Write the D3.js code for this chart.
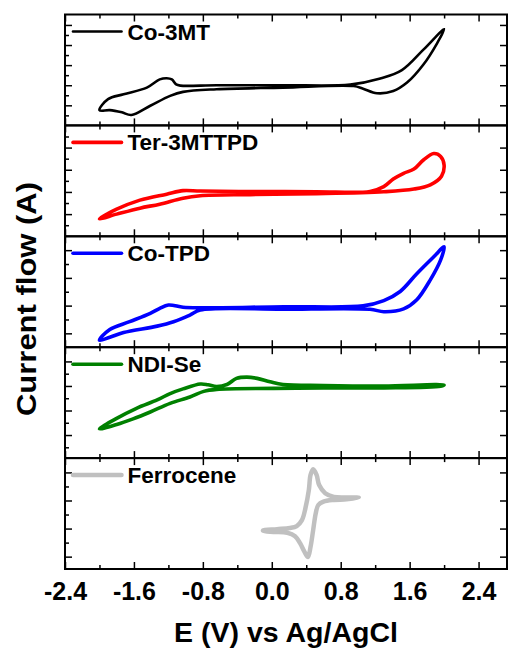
<!DOCTYPE html>
<html>
<head>
<meta charset="utf-8">
<script src="https://cdn.jsdelivr.net/npm/d3@7"></script>
<style>
  body { margin: 0; background: #fff; }
  text { font-family: "Liberation Sans", Arial, sans-serif; font-weight: bold; }
</style>
</head>
<body>
<svg id="chart"></svg>
<script>
// sample names, top to bottom
const names = ["Co-3MT", "Ter-3MTTPD", "Co-TPD", "NDI-Se", "Ferrocene"]

// CV loops: [E (V), current (arb. units)]
const co3mt = [[-2.00,0.76],[-1.90,1.31],[-1.72,1.55],[-1.45,1.88],[-1.30,2.29],[-1.22,2.35],[-1.16,2.29],[-1.11,2.04],[-1.06,1.98],[-0.64,2.00],[0.13,2.00],[0.91,2.03],[1.26,2.33],[1.51,2.75],[1.76,3.77],[2.00,4.79],[1.92,4.10],[1.76,3.03],[1.57,2.13],[1.41,1.71],[1.22,1.60],[1.06,1.83],[0.95,1.96],[0.13,1.88],[-0.64,1.80],[-1.03,1.67],[-1.18,1.47],[-1.41,0.98],[-1.63,0.52],[-1.74,0.65],[-1.88,0.76]]
const ter3mttpd = [[-2.00,0.79],[-1.80,1.22],[-1.53,1.63],[-1.22,1.90],[-1.03,2.06],[-0.83,2.04],[-0.25,2.02],[0.52,2.01],[1.14,2.02],[1.30,2.24],[1.41,2.58],[1.53,2.84],[1.65,3.03],[1.76,3.44],[1.88,3.73],[1.96,3.60],[2.00,3.21],[1.97,2.71],[1.84,2.32],[1.65,2.13],[1.30,2.01],[0.52,1.92],[-0.25,1.88],[-0.83,1.83],[-1.03,1.72],[-1.30,1.45],[-1.53,1.27],[-1.80,1.00]]
const cotpd = [[-2.00,-0.25],[-1.88,0.14],[-1.65,0.42],[-1.41,0.72],[-1.30,0.90],[-1.20,1.02],[-1.03,0.94],[-0.83,0.92],[0.14,0.96],[1.06,0.99],[1.30,1.18],[1.49,1.51],[1.68,2.14],[1.88,2.76],[2.00,3.12],[1.96,2.65],[1.84,1.93],[1.68,1.20],[1.53,0.88],[1.30,0.78],[1.14,0.87],[0.14,0.87],[-0.83,0.84],[-0.95,0.66],[-1.14,0.42],[-1.33,0.26],[-1.72,0.03],[-1.88,-0.14]]
const ndise = [[-2.00,0.25],[-1.80,0.68],[-1.57,1.09],[-1.33,1.43],[-1.18,1.69],[-1.03,1.88],[-0.83,2.08],[-0.74,2.05],[-0.64,1.98],[-0.52,2.06],[-0.41,2.31],[-0.29,2.36],[-0.17,2.31],[-0.02,2.17],[0.13,2.06],[0.60,2.02],[1.30,2.00],[2.00,2.04],[1.96,1.99],[1.30,1.92],[0.60,1.92],[0.02,1.90],[-0.64,1.86],[-0.79,1.78],[-0.95,1.55],[-1.18,1.29],[-1.41,0.94],[-1.61,0.66],[-1.80,0.43]]
const ferrocene = [[-0.10,0.94],[0.06,0.98],[0.21,1.02],[0.29,1.09],[0.35,1.30],[0.39,1.72],[0.43,2.37],[0.45,2.91],[0.48,3.11],[0.52,2.91],[0.55,2.55],[0.62,2.26],[0.72,2.13],[0.87,2.11],[1.01,2.10],[0.87,2.04],[0.72,2.02],[0.60,1.96],[0.54,1.84],[0.51,1.54],[0.48,0.94],[0.45,0.35],[0.42,-0.01],[0.38,0.17],[0.33,0.47],[0.27,0.73],[0.18,0.85],[0.02,0.88],[-0.10,0.92]]
const series = [co3mt, ter3mttpd, cotpd, ndise, ferrocene]

// axes
const xDomain = [-2.4, 2.73]
const xTicks = [-2.4, -1.6, -0.8, 0.0, 0.8, 1.6, 2.4]
const xMinor = [-2.0, -1.2, -0.4, 0.4, 1.2, 2.0]
const yDomains = [[0, 5.52], [0, 5], [-0.5, 3.5], [-0.94, 3.58], [-0.44, 3.51]]
const yMajor = [[1, 2, 3, 4, 5], [1, 2, 3, 4], [0, 1, 2, 3], [0, 1, 2, 3], [0, 1, 2, 3]]
const yMinor = [[0.5, 1.5, 2.5, 3.5, 4.5], [0.5, 1.5, 2.5, 3.5, 4.5], [0.5, 1.5, 2.5], [-0.5, 0.5, 1.5, 2.5], [0.5, 1.5, 2.5]]

const colors = ["#000000", "#ff0000", "#0000ff", "#008000", "#c0c0c0"]
const widths = [2.6, 3.6, 3.6, 3.6, 4.5]

const width = 512
const height = 653
const margin = { top: 14.5, right: 5, bottom: 84, left: 65 }
const panelH = (height - margin.top - margin.bottom) / names.length

const svg = d3.select("#chart")
  .attr("width", width)
  .attr("height", height)

const x = d3.scaleLinear().domain(xDomain).range([margin.left, width - margin.right])

function ticks(g, axis) {
  g.call(axis)
  g.select(".domain").remove()
  g.selectAll(".tick line").attr("stroke", "#000").attr("stroke-width", 1.5)
}

names.forEach((name, i) => {
  const top = margin.top + i * panelH
  const bottom = top + panelH
  const y = d3.scaleLinear().domain(yDomains[i]).range([bottom, top])
  const g = svg.append("g")

  const line = d3.line()
    .x(d => x(d[0]))
    .y(d => y(d[1]))
    .curve(d3.curveCatmullRomClosed.alpha(0.5))

  g.append("path")
    .datum(series[i])
    .attr("d", line)
    .attr("fill", "none")
    .attr("stroke", colors[i])
    .attr("stroke-width", widths[i])
    .attr("stroke-linejoin", "round")

  // inward ticks on all four sides
  g.append("g").attr("transform", `translate(0,${top})`)
    .call(ticks, d3.axisTop(x).tickValues(xTicks).tickSize(-7).tickFormat(""))
  g.append("g").attr("transform", `translate(0,${top})`)
    .call(ticks, d3.axisTop(x).tickValues(xMinor).tickSize(-4).tickFormat(""))
  const last = i === names.length - 1
  g.append("g").attr("transform", `translate(0,${bottom})`)
    .call(ticks, d3.axisBottom(x).tickValues(xTicks).tickSize(-7).tickPadding(13)
      .tickFormat(last ? (d => d.toFixed(1)) : ""))
  g.append("g").attr("transform", `translate(0,${bottom})`)
    .call(ticks, d3.axisBottom(x).tickValues(xMinor).tickSize(-4).tickFormat(""))
  g.append("g").attr("transform", `translate(${margin.left},0)`)
    .call(ticks, d3.axisLeft(y).tickValues(yMajor[i]).tickSize(-7).tickFormat(""))
  g.append("g").attr("transform", `translate(${margin.left},0)`)
    .call(ticks, d3.axisLeft(y).tickValues(yMinor[i]).tickSize(-4).tickFormat(""))
  g.append("g").attr("transform", `translate(${width - margin.right},0)`)
    .call(ticks, d3.axisRight(y).tickValues(yMajor[i]).tickSize(-7).tickFormat(""))

  g.append("rect")
    .attr("x", margin.left).attr("y", top)
    .attr("width", width - margin.right - margin.left).attr("height", panelH)
    .attr("fill", "none").attr("stroke", "#000").attr("stroke-width", 2)

  // legend
  g.append("line")
    .attr("x1", 73).attr("x2", 121.5)
    .attr("y1", top + 17).attr("y2", top + 17)
    .attr("stroke", colors[i]).attr("stroke-width", widths[i])
    .attr("stroke-linecap", "round")
  g.append("text")
    .attr("x", 127.5).attr("y", top + 25)
    .attr("font-size", 22.5)
    .attr("fill", "#000")
    .text(name)
})

svg.selectAll(".tick text")
  .attr("font-size", 25)
  .attr("fill", "#000")
  .attr("font-family", "Liberation Sans, Arial, sans-serif")
  .attr("font-weight", "bold")

svg.append("text")
  .attr("x", 286)
  .attr("y", 642)
  .attr("text-anchor", "middle")
  .attr("font-size", 28.5)
  .text("E (V) vs Ag/AgCl")

svg.append("text")
  .attr("transform", `translate(36,299) rotate(-90)`)
  .attr("text-anchor", "middle")
  .attr("font-size", 28)
  .attr("textLength", 234)
  .attr("lengthAdjust", "spacingAndGlyphs")
  .text("Current flow (A)")
</script>
</body>
</html>
